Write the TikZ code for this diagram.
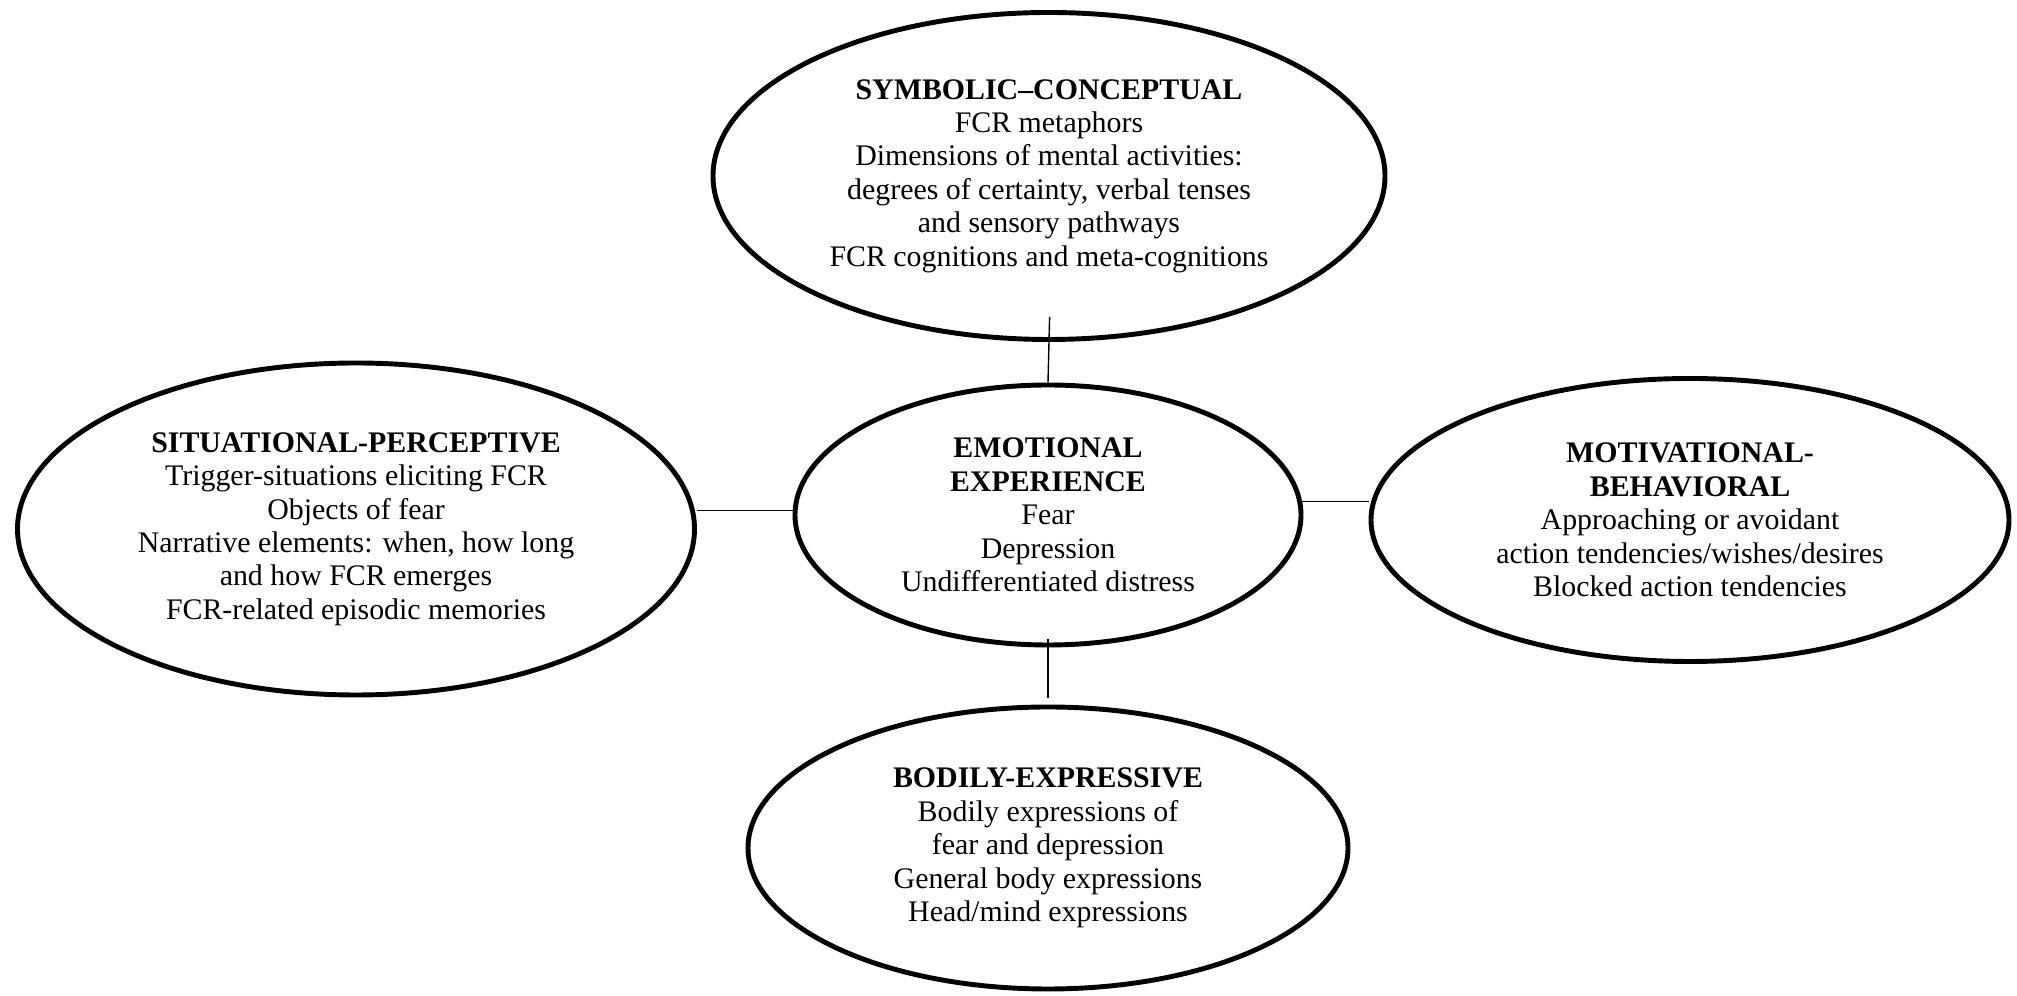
\documentclass[tikz,border=0pt]{standalone}
\usepackage{fontspec}
\setmainfont{Liberation Serif}
\usetikzlibrary{shapes.geometric}

\begin{document}
\begin{tikzpicture}[
    facet/.style = {draw, ellipse, line width = 1.4pt, inner sep = 0pt, align = center,
                    font = \fontsize{8.5}{9.5}\selectfont}
]
    \useasboundingbox (0, 0) rectangle (20.17, 9.96);

    \node[facet, minimum width = 6.72cm, minimum height = 3.27cm] (sym) at (10.49, 8.20)
        {\textbf{SYMBOLIC–CONCEPTUAL}\\FCR metaphors\\Dimensions of mental activities:\\degrees of certainty, verbal tenses\\and sensory pathways\\FCR cognitions and meta-cognitions};
    \node[facet, minimum width = 6.77cm, minimum height = 3.32cm] (sit) at (3.56, 4.67)
        {\textbf{SITUATIONAL-PERCEPTIVE}\\Trigger-situations eliciting FCR\\Objects of fear\\Narrative elements: when, how long\\and how FCR emerges\\FCR-related episodic memories};
    \node[facet, minimum width = 5.06cm, minimum height = 2.60cm] (emo) at (10.48, 4.81)
        {\textbf{EMOTIONAL}\\\textbf{EXPERIENCE}\\Fear\\Depression\\Undifferentiated distress};
    \node[facet, minimum width = 6.38cm, minimum height = 2.83cm] (mot) at (16.90, 4.76)
        {\textbf{MOTIVATIONAL-}\\\textbf{BEHAVIORAL}\\Approaching or avoidant\\action tendencies/wishes/desires\\Blocked action tendencies};
    \node[facet, minimum width = 6.00cm, minimum height = 2.82cm] (bod) at (10.48, 1.48)
        {\textbf{BODILY-EXPRESSIVE}\\Bodily expressions of\\fear and depression\\General body expressions\\Head/mind expressions};

    \draw[shorten <= -0.25cm] (sym.south) -- (emo.north);
    \draw[shorten <= -0.08cm, shorten >= 0.07cm] (emo.south) -- (bod.north);
    \draw (emo.179) -- (emo.179 -| sit.east);
    \draw (emo.3) -- (emo.3 -| mot.west);
\end{tikzpicture}
\end{document}
